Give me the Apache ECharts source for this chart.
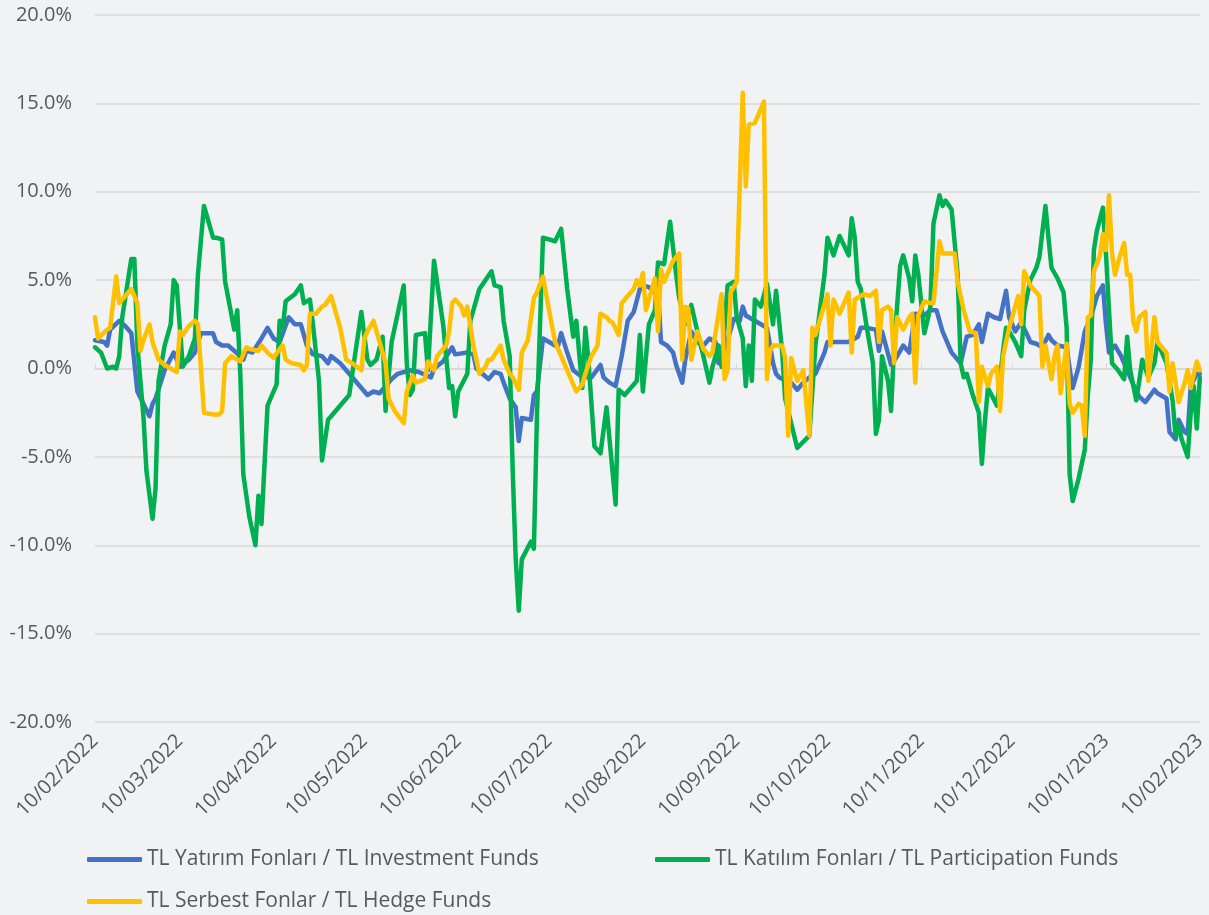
<!DOCTYPE html>
<html>
<head>
<meta charset="utf-8">
<script src="https://cdn.jsdelivr.net/npm/echarts@6/dist/echarts.min.js"></script>
<style>
html,body{margin:0;padding:0;background:#f1f2f4;}
#chart{width:1209px;height:915px;}
</style>
</head>
<body>
<div id="chart"></div>
<script>
// Day offsets from 10/02/2022 for the month tick labels
var tickDays = [0, 28, 59, 89, 120, 150, 181, 212, 242, 273, 303, 334, 365];
var tickLabels = ['10/02/2022','10/03/2022','10/04/2022','10/05/2022','10/06/2022','10/07/2022','10/08/2022','10/09/2022','10/10/2022','10/11/2022','10/12/2022','10/01/2023','10/02/2023'];

var seriesNames = ['TL Yatırım Fonları / TL Investment Funds', 'TL Katılım Fonları / TL Participation Funds', 'TL Serbest Fonlar / TL Hedge Funds'];

// TL Investment Funds (%)
var investDays = [0,3,4,5,8,10,12,14,18,19,20,23,26,28,31,33,35,39,40,42,44,48,49,50,52,55,57,59,61,64,66,68,70,72,75,77,78,81,84,90,92,94,98,100,104,107,111,112,115,118,119,123,125,126,128,130,132,134,135,137,139,140,141,144,145,146,148,152,153,154,156,158,161,164,167,168,170,172,174,176,178,180,181,183,185,186,187,189,191,192,194,195,197,199,201,203,205,206,208,211,213,214,215,218,220,222,224,225,226,230,232,234,236,238,241,242,244,247,249,252,253,255,258,259,260,263,265,267,269,271,274,276,278,280,283,286,288,290,292,293,295,297,299,301,302,304,306,308,309,311,313,315,316,318,321,322,323,325,327,329,331,333,334,335,337,339,341,343,345,347,350,351,354,355,357,358,360,361,362,364,365];
var investValues = [1.6,1.5,1.3,2.2,2.7,2.4,2.0,-1.3,-2.7,-2.0,-1.7,-0.1,0.9,0.1,0.5,0.9,2.0,2.0,1.5,1.3,1.3,0.7,0.5,1.0,0.9,1.7,2.3,1.7,1.5,2.9,2.5,2.5,1.3,0.8,0.7,0.3,0.7,0.3,-0.3,-1.5,-1.3,-1.4,-0.6,-0.3,-0.1,-0.2,-0.5,0.0,0.4,1.2,0.8,0.9,0.8,0.0,-0.3,-0.6,-0.2,-0.3,-0.8,-1.7,-2.2,-4.1,-2.8,-2.9,-1.5,-1.3,1.7,1.3,1.3,2.0,0.9,-0.1,-0.5,-0.5,0.2,-0.5,-0.8,-1.0,0.7,2.7,3.2,4.5,4.7,4.6,4.3,4.4,1.5,1.3,0.9,0.2,-0.8,0.5,2.1,1.5,1.3,1.7,1.5,0.3,1.0,2.8,2.7,3.5,3.0,2.7,2.5,2.3,0.3,-0.3,-0.5,-0.8,-1.2,-0.8,-0.5,-0.3,0.9,1.5,1.5,1.5,1.5,1.8,2.3,2.3,2.2,1.0,2.1,0.2,0.7,1.3,0.9,3.1,3.0,3.3,3.3,2.1,0.9,0.3,1.8,1.9,2.5,1.5,3.1,2.9,2.8,4.4,2.9,2.1,2.6,1.9,1.5,1.4,1.2,1.9,1.6,1.3,1.2,0.0,-1.1,0.1,2.1,2.9,4.1,4.7,2.5,0.9,1.3,0.7,-0.1,-0.9,-1.6,-1.9,-1.2,-1.4,-1.7,-3.6,-4.0,-2.9,-3.6,-3.7,-1.0,-0.3,-0.3];

// TL Participation Funds (%)
var partDays = [0,2,4,6,7,8,9,12,13,14,16,17,19,20,21,23,25,26,27,29,31,33,34,36,39,40,42,43,46,47,48,49,51,53,54,55,57,60,61,62,63,66,68,69,71,72,74,75,77,78,84,85,88,90,91,93,95,96,98,102,103,104,105,106,109,110,112,115,117,118,119,120,123,124,127,131,132,134,135,137,138,139,140,141,144,145,146,148,152,154,156,158,159,161,162,163,165,167,169,172,173,175,179,180,181,183,185,186,188,190,192,193,195,197,199,201,203,204,206,207,209,211,212,214,215,216,217,218,220,222,224,225,227,228,232,236,238,241,242,244,246,249,250,251,252,253,255,257,258,259,260,262,263,264,266,267,269,270,271,272,274,275,276,277,279,280,281,283,285,286,287,288,290,292,293,294,295,298,300,301,302,304,306,307,309,311,312,314,315,316,318,320,321,322,323,325,327,328,329,330,331,333,334,335,336,338,340,341,342,344,345,346,348,350,351,352,354,356,357,358,359,361,362,363,364,365];
var partValues = [1.2,0.9,0.0,0.1,0.0,0.7,2.9,6.2,6.2,1.3,-2.7,-5.8,-8.5,-6.8,-0.7,1.3,2.5,5.0,4.7,0.1,0.7,1.7,5.3,9.2,7.4,7.4,7.3,4.9,2.2,3.3,-0.3,-6.0,-8.4,-10.0,-7.2,-8.8,-2.1,-0.9,2.7,2.3,3.8,4.2,4.7,3.7,3.9,2.5,-0.7,-5.2,-2.9,-2.7,-1.5,-0.3,3.2,0.5,0.2,0.5,1.8,-2.4,1.5,4.7,0.3,-1.5,-1.2,1.9,2.0,-0.1,6.1,2.5,-1.1,-1.0,-2.7,-1.3,-0.3,2.7,4.5,5.5,4.7,4.6,2.7,0.7,-5.8,-10.8,-13.7,-10.8,-9.8,-10.2,-2.7,7.4,7.2,7.9,4.5,1.8,2.7,-1.1,2.3,0.5,-4.4,-4.8,-2.2,-7.7,-1.2,-1.5,-0.7,1.9,-1.3,2.5,3.3,6.0,5.9,8.3,5.3,4.0,2.5,3.6,2.1,0.7,-0.8,0.1,1.3,0.1,4.7,4.9,2.9,1.7,-1.0,1.3,-0.7,3.9,3.5,4.8,2.5,4.4,1.0,-1.7,-4.5,-3.8,1.3,5.3,7.4,6.4,7.5,6.4,8.5,7.4,4.9,4.5,2.3,0.3,-3.7,-2.9,0.7,-0.7,-2.4,1.3,5.8,6.4,5.1,3.8,6.4,5.3,2.0,2.7,3.5,8.2,9.8,9.2,9.5,9.0,5.3,0.3,-0.5,-0.3,-1.5,-2.5,-5.4,-3.0,-1.1,-2.1,1.0,2.3,2.1,1.5,0.7,3.3,5.0,5.7,6.3,9.2,7.4,5.7,5.1,4.3,2.3,-6.0,-7.5,-6.2,-4.6,-1.5,0.5,6.7,7.8,9.1,6.5,3.3,0.3,-0.1,-0.6,1.8,-0.1,-1.8,-0.7,0.5,-0.5,0.3,1.5,1.1,0.3,-1.8,-3.8,-3.2,-4.0,-5.0,-2.5,-1.0,-3.4,-0.5];

// TL Hedge Funds (%)
var hedgeDays = [0,1,4,5,7,8,10,12,14,15,16,18,19,20,21,23,25,27,28,29,31,33,34,36,39,41,42,43,45,48,50,51,54,55,57,59,61,62,63,65,68,69,70,71,73,75,76,78,81,83,85,88,89,90,92,94,96,97,99,102,103,105,106,109,110,112,113,116,117,118,119,121,122,123,125,127,129,130,131,134,135,137,138,140,141,143,145,146,148,150,152,154,156,159,161,162,164,166,167,169,170,171,173,174,176,178,179,180,181,182,184,185,186,187,188,191,193,194,195,196,197,199,201,203,204,207,208,209,210,212,214,215,216,218,221,222,223,224,227,228,229,230,232,234,236,237,238,242,243,244,246,249,250,251,253,254,256,258,259,260,262,263,264,265,267,269,270,271,272,274,276,277,279,280,282,284,285,287,289,291,292,293,295,296,298,299,300,302,305,306,307,309,310,312,313,314,316,317,318,319,321,322,323,325,326,327,328,329,330,332,333,334,335,336,337,338,340,341,342,343,344,345,347,348,350,351,352,354,355,356,358,360,361,362,364,365];
var hedgeValues = [2.9,1.7,2.2,2.3,5.2,3.7,4.1,4.5,3.7,1.0,1.6,2.5,1.5,1.0,0.5,0.2,0.0,-0.2,2.1,1.9,2.4,2.7,2.5,-2.5,-2.6,-2.6,-2.4,0.3,0.7,0.4,1.2,1.1,1.0,1.3,0.9,0.6,1.1,1.3,0.5,0.3,0.2,-0.1,0.2,3.1,3.1,3.5,3.6,4.1,2.3,0.5,0.3,-0.1,1.7,2.1,2.7,1.5,0.3,-1.7,-2.4,-3.1,-1.3,-0.4,-0.8,-0.6,0.4,-0.1,0.7,1.3,2.1,3.7,3.9,3.5,3.0,3.5,1.3,-0.3,0.1,0.5,0.5,1.3,0.5,-0.3,-0.5,-1.2,0.9,1.6,4.0,4.3,5.2,3.3,1.5,0.7,-0.1,-1.3,-0.9,-0.3,0.7,1.3,3.1,2.9,2.7,2.6,1.9,3.7,4.1,4.5,5.0,4.7,5.4,3.3,4.5,5.1,2.1,5.6,4.9,6.1,6.5,0.5,3.5,3.4,0.5,2.1,1.1,0.7,0.9,4.2,-0.6,-0.1,4.3,4.9,15.6,10.3,13.8,13.9,15.1,-0.6,1.0,1.3,1.3,0.6,-3.8,0.6,-0.7,-0.1,-3.8,2.3,1.9,4.2,1.3,3.9,3.1,4.3,0.9,3.9,4.1,4.2,4.1,4.4,1.5,3.3,3.5,3.3,0.3,2.9,2.2,2.9,3.1,-0.8,3.0,3.8,3.7,3.7,7.2,6.5,6.5,6.5,4.9,3.3,2.1,2.0,-1.9,0.1,-1.0,-0.3,0.1,-2.4,0.7,2.3,4.1,2.5,5.5,4.7,4.5,4.1,0.1,1.3,-0.6,0.7,1.3,-1.4,1.4,-2.0,-2.5,-2.0,-2.1,-3.8,2.9,3.0,5.5,6.4,7.6,6.7,9.8,6.5,5.3,6.0,7.1,5.3,5.3,2.7,2.1,2.9,3.2,-0.7,2.9,1.5,1.3,0.9,-1.3,0.3,-1.9,-0.8,-0.1,-1.1,0.4,-0.1];

var colors = ['#4472C4', '#00B050', '#FFC000'];
var FONT = "'Open Sans', sans-serif";
var TXT = '#595959';

function pairs(days, vals) {
  var out = [];
  for (var i = 0; i < days.length; i++) out.push([days[i], vals[i]]);
  return out;
}
var seriesData = [pairs(investDays, investValues), pairs(partDays, partValues), pairs(hedgeDays, hedgeValues)];

var chart = echarts.init(document.getElementById('chart'), null, {renderer: 'canvas'});

function legendFor(i, left, top) {
  return {
    data: [seriesNames[i]], left: left, top: top, orient: 'horizontal', padding: 0,
    icon: 'roundRect', itemWidth: 55, itemHeight: 5,
    textStyle: {fontSize: 21, color: TXT, fontFamily: FONT},
    selectedMode: false
  };
}

var option = {
  backgroundColor: '#f1f2f4',
  animation: false,
  grid: {left: 95, right: 4, top: 15, bottom: 193, containLabel: false},
  legend: [legendFor(0, 87, 849), legendFor(1, 655, 849), legendFor(2, 87, 891)],
  xAxis: [
    {
      type: 'value', min: 0, max: 365, position: 'bottom',
      axisLine: {show: false, onZero: false},
      axisTick: {show: false},
      splitLine: {show: false},
      axisLabel: {
        customValues: tickDays, rotate: 45, margin: 16,
        fontSize: 20, color: TXT, fontFamily: FONT,
        formatter: function (v) { var k = tickDays.indexOf(Math.round(v)); return k >= 0 ? tickLabels[k] : ''; }
      }
    },
    {
      type: 'value', min: 0, max: 365,
      axisLine: {show: true, onZero: true, lineStyle: {color: '#d9d9d9', width: 1.5}},
      axisTick: {show: true, customValues: tickDays, length: 5, lineStyle: {color: '#d9d9d9'}},
      axisLabel: {show: false},
      splitLine: {show: false}
    }
  ],
  yAxis: {
    type: 'value', min: -20, max: 20, interval: 5,
    axisLine: {show: false}, axisTick: {show: false},
    splitLine: {show: true, lineStyle: {color: '#d9d9d9', width: 1.5}},
    axisLabel: {
      margin: 23, fontSize: 20, color: TXT, fontFamily: FONT,
      formatter: function (v) { return v.toFixed(1) + '%'; }
    }
  },
  series: seriesNames.map(function (name, i) {
    return {
      name: name, type: 'line', xAxisIndex: 0, data: seriesData[i],
      showSymbol: false, symbol: 'none', smooth: false, z: 2 + i,
      lineStyle: {color: colors[i], width: 4.5, join: 'round', cap: 'round'},
      itemStyle: {color: colors[i]}
    };
  })
};
chart.setOption(option);
</script>
</body>
</html>
